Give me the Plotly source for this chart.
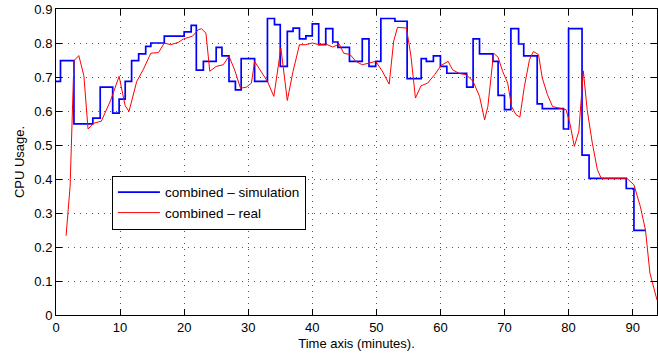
import plotly.graph_objects as go

sim_x = [0, 0.7, 2.8, 5.75, 6.9, 8.85, 9.85, 10.8, 11.8, 12.9, 14.0, 14.8, 16.9, 20.0, 21.1,
         21.9, 23.0, 25.0, 25.9, 27.0, 28.0, 28.9, 31.0, 33.0, 34.1, 35.0, 36.1, 37.0, 38.0,
         39.0, 40.0, 41.0, 42.1, 43.2, 44.0, 45.8, 47.8, 48.85, 49.9, 50.7, 52.9, 54.8, 57.0,
         57.8, 58.9, 60.0, 61.0, 64.1, 65.1, 66.1, 68.2, 69.0, 70.0, 71.0, 72.2, 73.0, 75.1,
         75.9, 79.2, 80.0, 82.1, 83.2, 89.0, 90.2, 92.0]
sim_y = [0.687, 0.748, 0.562, 0.579, 0.670, 0.594, 0.635, 0.687, 0.748, 0.768, 0.790, 0.800,
         0.820, 0.833, 0.852, 0.720, 0.746, 0.787, 0.762, 0.687, 0.662, 0.754, 0.687, 0.872,
         0.854, 0.731, 0.834, 0.844, 0.812, 0.821, 0.856, 0.795, 0.842, 0.803, 0.787, 0.746,
         0.812, 0.731, 0.746, 0.872, 0.864, 0.695, 0.754, 0.746, 0.762, 0.731, 0.711, 0.670,
         0.812, 0.768, 0.746, 0.646, 0.604, 0.842, 0.797, 0.762, 0.621, 0.607, 0.547, 0.842,
         0.470, 0.402, 0.372, 0.249, 0.249]

real_x = [1.57, 2.2, 2.8, 3.56, 4.35, 5.0, 5.86, 7.07, 8.5, 9.85, 10.8, 11.4, 12.6, 13.6, 14.8,
          16.0, 16.9, 17.9, 19.1, 19.9, 21.3, 22.2, 22.7, 23.4, 24.0, 25.0, 26.1, 27.0, 27.9,
          28.8, 29.7, 30.5, 31.0, 32.0, 33.0, 34.0, 35.1, 36.1, 37.0, 38.0, 39.0, 40.0, 41.1,
          42.1, 43.2, 44.2, 44.9, 45.9, 46.8, 47.8, 48.85, 49.9, 50.9, 52.0, 52.7, 53.3, 54.7,
          55.4, 56.1, 56.96, 58.0, 59.1, 60.1, 61.2, 61.9, 63.0, 64.0, 65.1, 66.1, 66.9, 67.4,
          68.3, 69.0, 69.7, 70.5, 71.1, 71.8, 72.4, 73.1, 73.9, 74.5, 75.3, 75.9, 76.7, 77.5,
          78.5, 79.6, 80.2, 80.9, 81.6, 82.3, 82.9, 83.7, 84.5, 85.1, 89.1, 90.2, 91.2, 92.0,
          92.7, 93.8]
real_y = [0.233, 0.378, 0.748, 0.763, 0.704, 0.547, 0.564, 0.570, 0.630, 0.702, 0.615, 0.599,
          0.687, 0.721, 0.770, 0.772, 0.800, 0.795, 0.802, 0.812, 0.820, 0.839, 0.842, 0.829,
          0.717, 0.731, 0.736, 0.761, 0.720, 0.667, 0.670, 0.682, 0.746, 0.717, 0.687, 0.643,
          0.785, 0.631, 0.717, 0.795, 0.795, 0.800, 0.795, 0.797, 0.788, 0.797, 0.770, 0.766,
          0.746, 0.736, 0.741, 0.746, 0.718, 0.679, 0.805, 0.846, 0.844, 0.761, 0.638, 0.674,
          0.682, 0.707, 0.734, 0.746, 0.721, 0.710, 0.707, 0.687, 0.643, 0.574, 0.613, 0.770,
          0.758, 0.717, 0.682, 0.613, 0.589, 0.582, 0.672, 0.751, 0.775, 0.766, 0.697, 0.648,
          0.613, 0.608, 0.604, 0.564, 0.496, 0.540, 0.718, 0.604, 0.506, 0.427, 0.402, 0.402,
          0.383, 0.319, 0.250, 0.123, 0.044]

x_ticks = [0, 10, 20, 30, 40, 50, 60, 70, 80, 90]
y_ticks = [0, 0.1, 0.2, 0.3, 0.4, 0.5, 0.6, 0.7, 0.8, 0.9]
y_tick_labels = ["0", "0.1", "0.2", "0.3", "0.4", "0.5", "0.6", "0.7", "0.8", "0.9"]

fig = go.Figure()
fig.add_trace(go.Scatter(x=sim_x, y=sim_y, mode="lines", line_shape="hv",
                         line=dict(color="#0000ff", width=1.7),
                         name="combined – simulation"))
fig.add_trace(go.Scatter(x=real_x, y=real_y, mode="lines",
                         line=dict(color="#ff0000", width=1),
                         name="combined – real"))

font = dict(family="Liberation Sans, Arial, sans-serif", size=13, color="black")
axis_common = dict(showline=True, linecolor="black", linewidth=1, mirror="allticks",
                   ticks="inside", ticklen=6, tickcolor="black",
                   showgrid=True, gridcolor="#555555", griddash="1px,5px", gridwidth=1,
                   zeroline=False, tickfont=font)
fig.update_layout(
    width=658, height=356,
    margin=dict(l=56, r=1, t=9, b=41),
    paper_bgcolor="white", plot_bgcolor="white",
    font=font,
    showlegend=True,
    legend=dict(x=0.093, y=0.455, xanchor="left", yanchor="top",
                bgcolor="white", bordercolor="black", borderwidth=1,
                itemwidth=42,
                font=dict(family="Liberation Sans, Arial, sans-serif", size=13.5, color="black"),
                tracegroupgap=0),
    xaxis=dict(range=[0, 93.8], tickvals=x_ticks,
               title=dict(text="Time axis (minutes).", standoff=5, font=font), **axis_common),
    yaxis=dict(range=[0, 0.9], tickvals=y_ticks, ticktext=y_tick_labels,
               title=dict(text="CPU Usage.", standoff=6, font=font), **axis_common),
)
fig.write_html("out.html")
